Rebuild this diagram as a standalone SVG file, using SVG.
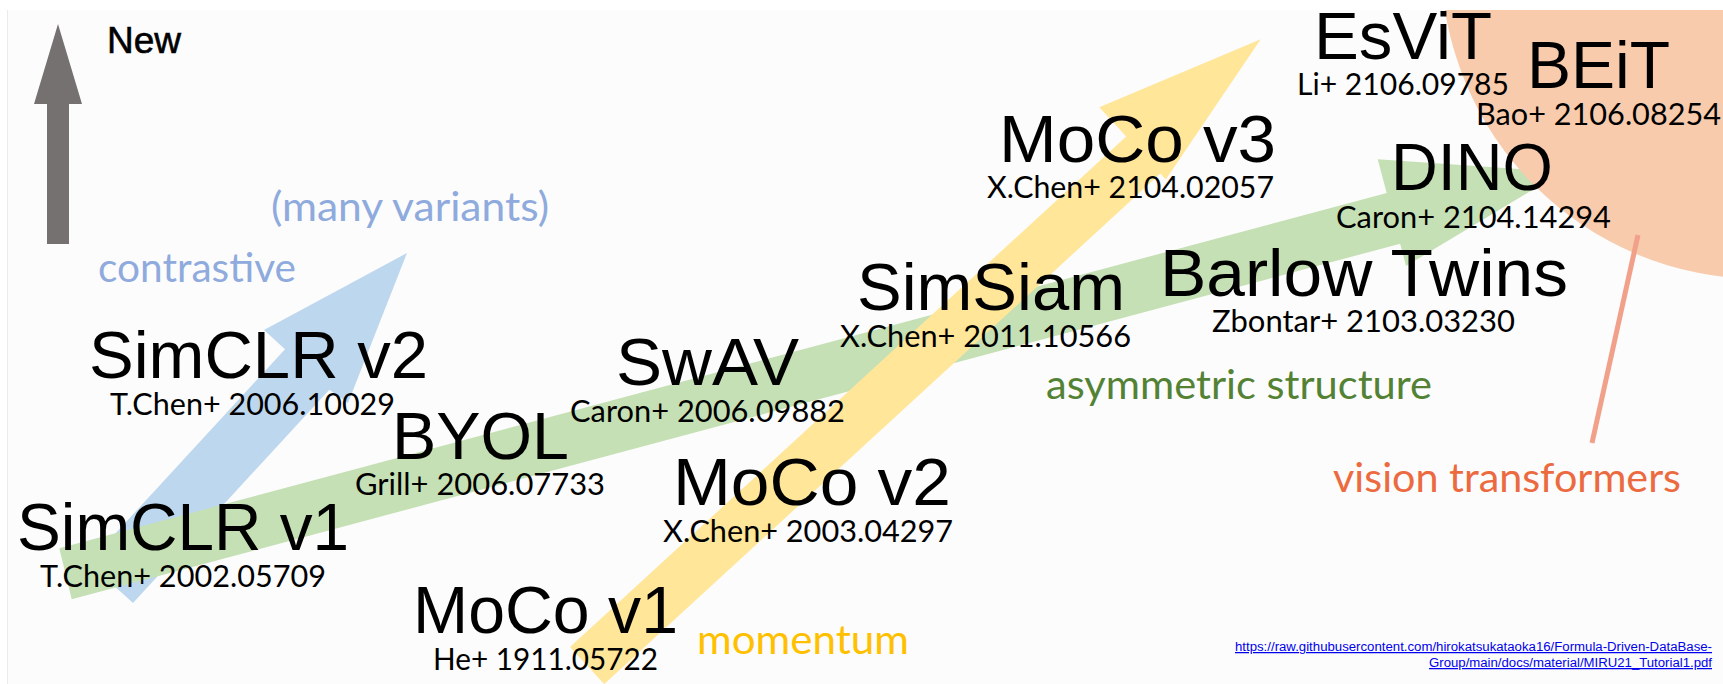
<svg xmlns="http://www.w3.org/2000/svg" width="1723" height="684" viewBox="0 0 1723 684">
<defs>
<style>
.t{font-family:"Liberation Sans",Arial,sans-serif;font-size:66px;fill:#000}
.s{font-family:Lato,"Open Sans",sans-serif;font-size:30px;fill:#000}
.c{font-family:Lato,"Open Sans",sans-serif;font-size:40px}
.lnk{font-family:"Liberation Sans",Arial,sans-serif;font-size:12.5px;fill:#0000ee;text-decoration:underline;text-anchor:end}
</style>
<clipPath id="slide"><rect x="7" y="10" width="1716" height="674"/></clipPath>
</defs>
<rect width="1723" height="684" fill="#ffffff"/>
<rect x="7" y="10" width="1716" height="674" fill="#fcfcfc"/>
<line x1="7.5" y1="10" x2="7.5" y2="684" stroke="#ebebeb" stroke-width="1"/>

<g id="connectors">
  <polygon id="arrow-contrastive" fill="#bdd7ee" points="88.7,562.5 285,349.2 264,330 407,253 348,403 329.3,389.7 133,603"/>
  <polygon id="arrow-asymmetric" fill="#c5e0b4" points="59.3,548.3 1386.7,193 1377.7,159.2 1562,172 1406,266 1400.2,243.7 71.7,599.3"/>
  <polygon id="arrow-momentum" fill="#ffe699" points="570,647 1126.2,136.5 1099.3,107.3 1260.7,39.3 1165.8,179.5 1160.4,173.6 604.2,684.1"/>
  <polygon id="arrow-new" fill="#767171" points="47,244 47,104 34,104 58,24 82,104 69,104 69,244"/>
</g>

<g id="vit-region" clip-path="url(#slide)">
  <circle cx="1760" cy="-40" r="319" fill="#f8cbad"/>
</g>
<line id="vit-pointer" x1="1638" y1="235" x2="1592" y2="443" stroke="#f1a08a" stroke-width="5"/>

<g id="label-new"><text x="107" y="53" font-family="Liberation Sans, Arial, sans-serif" font-size="37" fill="#000" stroke="#000" stroke-width="0.6">New</text></g>
<g id="label-many"><text class="c" x="271" y="221" fill="#8faadc" textLength="278" lengthAdjust="spacingAndGlyphs">(many variants)</text></g>
<g id="label-contrastive"><text class="c" x="98" y="282" fill="#8faadc" textLength="198" lengthAdjust="spacingAndGlyphs">contrastive</text></g>
<g id="label-asymmetric"><text class="c" x="1046" y="399" fill="#548235" textLength="386" lengthAdjust="spacingAndGlyphs">asymmetric structure</text></g>
<g id="label-momentum"><text class="c" x="697" y="654" fill="#ffc000" textLength="212" lengthAdjust="spacingAndGlyphs">momentum</text></g>
<g id="label-vit"><text class="c" x="1333" y="492" fill="#ec6a3f" textLength="348" lengthAdjust="spacingAndGlyphs">vision transformers</text></g>

<g id="node-simclr-v2">
  <text class="t" x="89" y="378" textLength="339" lengthAdjust="spacingAndGlyphs">SimCLR v2</text>
  <text class="s" x="110" y="415" textLength="285" lengthAdjust="spacingAndGlyphs">T.Chen+ 2006.10029</text>
</g>
<g id="node-simclr-v1">
  <text class="t" x="17" y="550" textLength="332" lengthAdjust="spacingAndGlyphs">SimCLR v1</text>
  <text class="s" x="40" y="587" textLength="286" lengthAdjust="spacingAndGlyphs">T.Chen+ 2002.05709</text>
</g>
<g id="node-byol">
  <text class="t" x="392" y="459" textLength="177" lengthAdjust="spacingAndGlyphs">BYOL</text>
  <text class="s" x="355" y="495" textLength="250" lengthAdjust="spacingAndGlyphs">Grill+ 2006.07733</text>
</g>
<g id="node-swav">
  <text class="t" x="616" y="385" textLength="183" lengthAdjust="spacingAndGlyphs">SwAV</text>
  <text class="s" x="570" y="422" textLength="275" lengthAdjust="spacingAndGlyphs">Caron+ 2006.09882</text>
</g>
<g id="node-simsiam">
  <text class="t" x="857" y="310" textLength="268" lengthAdjust="spacingAndGlyphs">SimSiam</text>
  <text class="s" x="840" y="347" textLength="291" lengthAdjust="spacingAndGlyphs">X.Chen+ 2011.10566</text>
</g>
<g id="node-moco-v3">
  <text class="t" x="999" y="162" textLength="277" lengthAdjust="spacingAndGlyphs">MoCo v3</text>
  <text class="s" x="987" y="198" textLength="287" lengthAdjust="spacingAndGlyphs">X.Chen+ 2104.02057</text>
</g>
<g id="node-esvit">
  <text class="t" x="1314" y="59" textLength="178" lengthAdjust="spacingAndGlyphs">EsViT</text>
  <text class="s" x="1297" y="95" textLength="212" lengthAdjust="spacingAndGlyphs">Li+ 2106.09785</text>
</g>
<g id="node-beit">
  <text class="t" x="1527" y="88" textLength="143" lengthAdjust="spacingAndGlyphs">BEiT</text>
  <text class="s" x="1476" y="125" textLength="245" lengthAdjust="spacingAndGlyphs">Bao+ 2106.08254</text>
</g>
<g id="node-dino">
  <text class="t" x="1391" y="190" textLength="162" lengthAdjust="spacingAndGlyphs">DINO</text>
  <text class="s" x="1336" y="228" textLength="275" lengthAdjust="spacingAndGlyphs">Caron+ 2104.14294</text>
</g>
<g id="node-barlow">
  <text class="t" x="1160" y="296" textLength="408" lengthAdjust="spacingAndGlyphs">Barlow Twins</text>
  <text class="s" x="1212" y="332" textLength="303" lengthAdjust="spacingAndGlyphs">Zbontar+ 2103.03230</text>
</g>
<g id="node-moco-v2">
  <text class="t" x="673" y="505" textLength="278" lengthAdjust="spacingAndGlyphs">MoCo v2</text>
  <text class="s" x="663" y="542" textLength="290" lengthAdjust="spacingAndGlyphs">X.Chen+ 2003.04297</text>
</g>
<g id="node-moco-v1">
  <text class="t" x="413" y="633" textLength="265" lengthAdjust="spacingAndGlyphs">MoCo v1</text>
  <text class="s" x="433" y="670" textLength="225" lengthAdjust="spacingAndGlyphs">He+ 1911.05722</text>
</g>

<g id="source-link">
  <text class="lnk" x="1712" y="651" textLength="477" lengthAdjust="spacingAndGlyphs">https://raw.githubusercontent.com/hirokatsukataoka16/Formula-Driven-DataBase-</text>
  <text class="lnk" x="1712" y="667" textLength="283" lengthAdjust="spacingAndGlyphs">Group/main/docs/material/MIRU21_Tutorial1.pdf</text>
</g>
</svg>
